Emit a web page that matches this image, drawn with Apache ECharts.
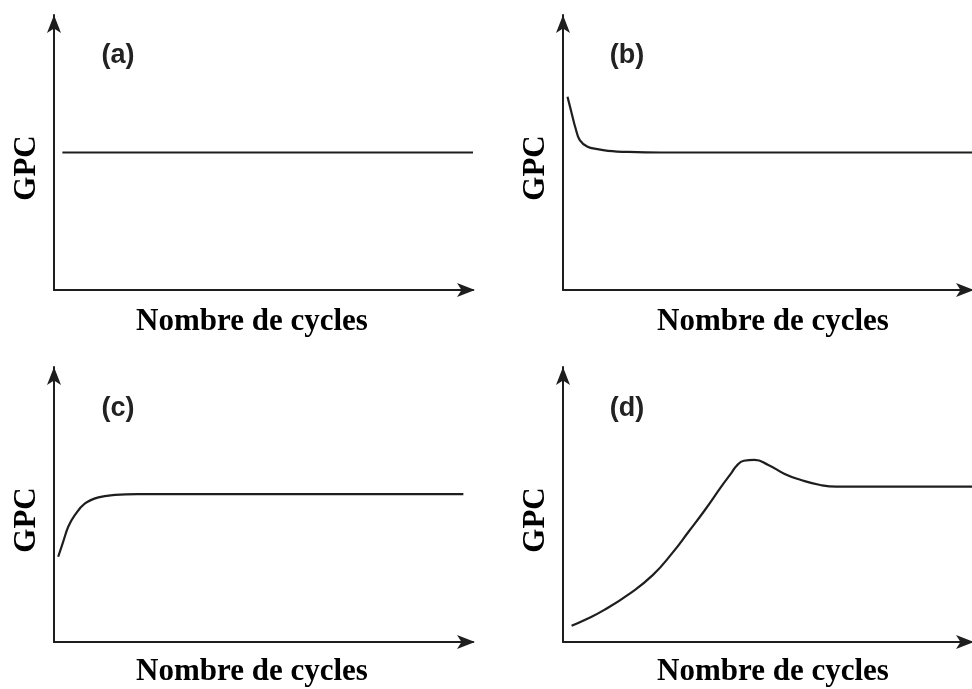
<!DOCTYPE html>
<html>
<head>
<meta charset="utf-8">
<title>GPC</title>
<script src="https://cdn.jsdelivr.net/npm/echarts@6/dist/echarts.min.js"></script>
<style>
  html, body { margin: 0; padding: 0; background: #ffffff; }
  #chart { width: 972px; height: 689px; }
</style>
</head>
<body>
<div id="chart"></div>
<script>
// Panel captions and axis titles
const panelLabels = ['(a)', '(b)', '(c)', '(d)'];
const xTitle = 'Nombre de cycles';
const yTitle = 'GPC';

// GPC versus number of cycles, arbitrary units (0-100 on both axes)
const gpcA = [[2, 50], [100, 50]];
const gpcB = [[1.1, 70.3], [2.1, 64.4], [3.0, 59.2], [4.1, 54.5], [6.0, 52.1], [8.4, 51.2],
              [11, 50.6], [16, 50.2], [24, 50], [100, 50]];
const gpcC = [[1.0, 31.0], [2.2, 36.5], [3.4, 41.9], [5.0, 46.2], [7.4, 50.4], [10.6, 52.6],
              [14.6, 53.5], [20, 53.8], [97.7, 53.8]];
const gpcD = [[2.1, 5.9], [5.3, 8.0], [10.0, 11.6], [16.4, 17.7], [22.0, 24.4], [26.7, 32.3],
              [30.7, 40.1], [34.7, 48.0], [38.7, 56.5], [41.1, 61.3], [42.4, 64.0], [44.2, 65.9],
              [46.8, 66.2], [50.2, 64.4], [54.2, 61.1], [58.2, 58.9], [62.9, 57.1], [66.9, 56.5],
              [75.7, 56.5], [100, 56.5]];
const curves = [gpcA, gpcB, gpcC, gpcD];
const smoothing = [false, 0.4, 0.4, 0.5];

// Layout of the four panels (pixels)
const grids = [
  { left: 54, top: 15 }, { left: 563, top: 15 },
  { left: 54, top: 367 }, { left: 563, top: 367 }
];
const gridW = 419, gridH = 275;
const labelPos = [[118, 56], [627, 56], [118, 409], [627, 409]];
const yTitlePos = [[27, 168], [536, 168], [27, 520], [536, 520]];
const xTitlePos = [[252, 322], [773, 322], [252, 672], [773, 672]];

const ink = '#1e1e1e';

function axisBase(offset) {
  return {
    type: 'value', min: 0, max: 100,
    axisLine: {
      show: true, onZero: false,
      symbol: ['none', 'arrow'], symbolSize: [10.5, 18], symbolOffset: [0, offset],
      lineStyle: { color: ink, width: 2 }
    },
    axisTick: { show: false }, axisLabel: { show: false }, splitLine: { show: false }
  };
}

const graphics = [];
for (let i = 0; i < 4; i++) {
  graphics.push({
    type: 'text', x: labelPos[i][0], y: labelPos[i][1], silent: true,
    style: { text: panelLabels[i], fill: '#222', font: 'bold 27px "Liberation Sans", Arial, sans-serif',
             align: 'center', verticalAlign: 'middle' }
  });
  graphics.push({
    type: 'text', x: yTitlePos[i][0], y: yTitlePos[i][1], rotation: Math.PI / 2, silent: true,
    style: { text: yTitle, fill: '#000', font: 'bold 31px "Liberation Serif", "Times New Roman", serif',
             align: 'center', verticalAlign: 'middle' }
  });
  graphics.push({
    type: 'text', x: xTitlePos[i][0], y: xTitlePos[i][1], silent: true,
    style: { text: xTitle, fill: '#000', font: 'bold 31px "Liberation Serif", "Times New Roman", serif',
             align: 'center', verticalAlign: 'middle' }
  });
}

const option = {
  backgroundColor: '#ffffff',
  animation: false,
  grid: grids.map(g => ({ left: g.left, top: g.top, width: gridW, height: gridH, containLabel: false })),
  xAxis: grids.map((g, i) => Object.assign({ gridIndex: i }, axisBase(2))),
  yAxis: grids.map((g, i) => Object.assign({ gridIndex: i }, axisBase(0))),
  series: curves.map((data, i) => ({
    type: 'line', xAxisIndex: i, yAxisIndex: i, data: data,
    showSymbol: false, symbol: 'none', smooth: smoothing[i],
    lineStyle: { color: ink, width: 2.2 }
  })),
  graphic: graphics
};

const chart = echarts.init(document.getElementById('chart'), null, { renderer: 'canvas' });
chart.setOption(option);
</script>
</body>
</html>
